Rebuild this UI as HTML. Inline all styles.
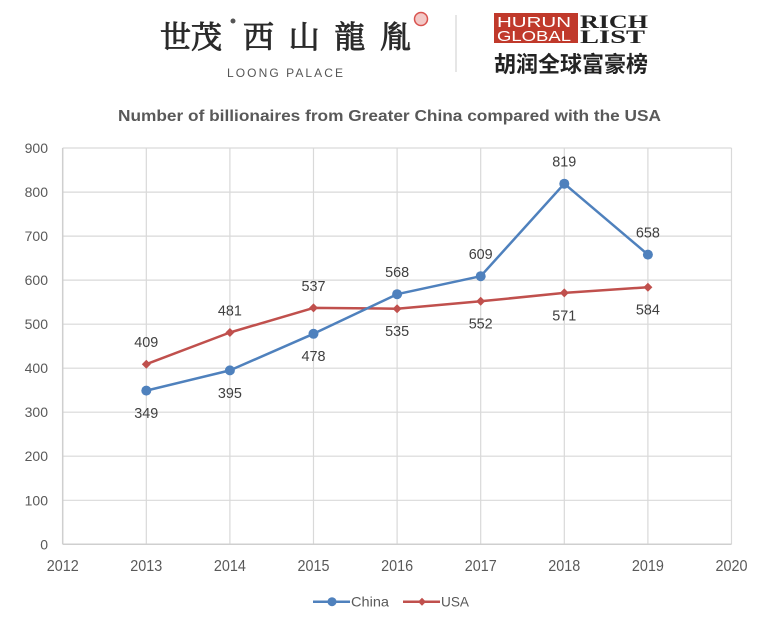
<!DOCTYPE html>
<html><head><meta charset="utf-8"><style>
html,body{margin:0;padding:0;background:#fff;}
svg{display:block;}
</style></head><body>
<svg width="768" height="617" viewBox="0 0 768 617" xmlns="http://www.w3.org/2000/svg">
<rect width="768" height="617" fill="#fff"/>
<!-- Header left logo -->
<g font-family="'Liberation Serif','Noto Serif CJK SC',serif" fill="#2b2b2b" stroke="#2b2b2b" stroke-width="0.9">
<text x="160" y="48" font-size="31">世茂</text>
<text x="243" y="48" font-size="31" textLength="168" lengthAdjust="spacing">西山龍胤</text>
</g>
<circle cx="233" cy="21" r="2.5" fill="#555"/>
<circle cx="421" cy="19" r="6.5" fill="#f3c9c7" stroke="#d9534f" stroke-width="1.5"/>
<text x="227" y="77" font-family="'Liberation Sans',sans-serif" font-size="12" fill="#555" textLength="116" lengthAdjust="spacing">LOONG  PALACE</text>
<line x1="456" y1="15" x2="456" y2="72" stroke="#ddd" stroke-width="1.5"/>
<!-- Hurun logo -->
<rect x="494" y="13" width="84" height="30" fill="#c0392b"/>
<text x="497" y="27" font-family="'Liberation Sans',sans-serif" font-size="15" fill="#fff" textLength="74" lengthAdjust="spacingAndGlyphs">HURUN</text>
<text x="497" y="41" font-family="'Liberation Sans',sans-serif" font-size="15" fill="#fff" textLength="74" lengthAdjust="spacingAndGlyphs">GLOBAL</text>
<text x="580" y="28" font-family="'Liberation Serif',serif" font-weight="bold" font-size="19" fill="#222" textLength="68" lengthAdjust="spacingAndGlyphs">RICH</text>
<text x="580" y="43" font-family="'Liberation Serif',serif" font-weight="bold" font-size="19" fill="#222" textLength="65" lengthAdjust="spacingAndGlyphs">LIST</text>
<text x="494" y="72" font-family="'Liberation Sans','Noto Sans CJK SC',sans-serif" font-weight="bold" font-size="22" fill="#222" textLength="154" lengthAdjust="spacingAndGlyphs">胡润全球富豪榜</text>
<!-- Title -->
<text x="118" y="121" font-family="'Liberation Sans',sans-serif" font-weight="bold" font-size="15.5" fill="#595959" textLength="543" lengthAdjust="spacingAndGlyphs">Number of billionaires from Greater China compared with the USA</text>
<!-- Grid -->
<g stroke="#d9d9d9" stroke-width="1.2" fill="none">
<line x1="62.7" y1="500.3" x2="731.5" y2="500.3"/>
<line x1="62.7" y1="456.2" x2="731.5" y2="456.2"/>
<line x1="62.7" y1="412.2" x2="731.5" y2="412.2"/>
<line x1="62.7" y1="368.2" x2="731.5" y2="368.2"/>
<line x1="62.7" y1="324.2" x2="731.5" y2="324.2"/>
<line x1="62.7" y1="280.1" x2="731.5" y2="280.1"/>
<line x1="62.7" y1="236.1" x2="731.5" y2="236.1"/>
<line x1="62.7" y1="192.1" x2="731.5" y2="192.1"/>
<line x1="62.7" y1="148.0" x2="731.5" y2="148.0"/>
<line x1="146.3" y1="148" x2="146.3" y2="544.3"/>
<line x1="229.9" y1="148" x2="229.9" y2="544.3"/>
<line x1="313.5" y1="148" x2="313.5" y2="544.3"/>
<line x1="397.1" y1="148" x2="397.1" y2="544.3"/>
<line x1="480.7" y1="148" x2="480.7" y2="544.3"/>
<line x1="564.3" y1="148" x2="564.3" y2="544.3"/>
<line x1="647.9" y1="148" x2="647.9" y2="544.3"/>
<line x1="731.5" y1="148" x2="731.5" y2="544.3"/>
</g>
<g stroke="#cfcfcf" stroke-width="1.5">
<line x1="62.7" y1="148" x2="62.7" y2="544.3"/>
<line x1="62.7" y1="544.3" x2="731.5" y2="544.3"/>
</g>
<!-- Y labels -->
<g font-family="'Liberation Sans',sans-serif" font-size="14" fill="#595959" text-anchor="end">
<text x="48" y="549.3">0</text>
<text x="48" y="505.3">100</text>
<text x="48" y="461.2">200</text>
<text x="48" y="417.2">300</text>
<text x="48" y="373.2">400</text>
<text x="48" y="329.2">500</text>
<text x="48" y="285.1">600</text>
<text x="48" y="241.1">700</text>
<text x="48" y="197.1">800</text>
<text x="48" y="153">900</text>
</g>
<!-- X labels -->
<g font-family="'Liberation Sans',sans-serif" font-size="16" fill="#595959" text-anchor="middle">
<text x="62.7" y="571" textLength="32" lengthAdjust="spacingAndGlyphs">2012</text>
<text x="146.3" y="571" textLength="32" lengthAdjust="spacingAndGlyphs">2013</text>
<text x="229.9" y="571" textLength="32" lengthAdjust="spacingAndGlyphs">2014</text>
<text x="313.5" y="571" textLength="32" lengthAdjust="spacingAndGlyphs">2015</text>
<text x="397.1" y="571" textLength="32" lengthAdjust="spacingAndGlyphs">2016</text>
<text x="480.7" y="571" textLength="32" lengthAdjust="spacingAndGlyphs">2017</text>
<text x="564.3" y="571" textLength="32" lengthAdjust="spacingAndGlyphs">2018</text>
<text x="647.9" y="571" textLength="32" lengthAdjust="spacingAndGlyphs">2019</text>
<text x="731.5" y="571" textLength="32" lengthAdjust="spacingAndGlyphs">2020</text>
</g>
<!-- USA series -->
<polyline fill="none" stroke="#c0504d" stroke-width="2.5" stroke-linejoin="round" points="146.3,364.2 229.9,332.5 313.5,307.9 397.1,308.7 480.7,301.3 564.3,292.9 647.9,287.2"/>
<g fill="#c0504d">
<path d="M146.3,359.7 l4.5,4.5 l-4.5,4.5 l-4.5,-4.5z"/>
<path d="M229.9,328 l4.5,4.5 l-4.5,4.5 l-4.5,-4.5z"/>
<path d="M313.5,303.4 l4.5,4.5 l-4.5,4.5 l-4.5,-4.5z"/>
<path d="M397.1,304.2 l4.5,4.5 l-4.5,4.5 l-4.5,-4.5z"/>
<path d="M480.7,296.8 l4.5,4.5 l-4.5,4.5 l-4.5,-4.5z"/>
<path d="M564.3,288.4 l4.5,4.5 l-4.5,4.5 l-4.5,-4.5z"/>
<path d="M647.9,282.7 l4.5,4.5 l-4.5,4.5 l-4.5,-4.5z"/>
</g>
<!-- China series -->
<polyline fill="none" stroke="#4f81bd" stroke-width="2.5" stroke-linejoin="round" points="146.3,390.6 229.9,370.4 313.5,333.8 397.1,294.2 480.7,276.2 564.3,183.7 647.9,254.6"/>
<g fill="#4f81bd">
<circle cx="146.3" cy="390.6" r="5"/>
<circle cx="229.9" cy="370.4" r="5"/>
<circle cx="313.5" cy="333.8" r="5"/>
<circle cx="397.1" cy="294.2" r="5"/>
<circle cx="480.7" cy="276.2" r="5"/>
<circle cx="564.3" cy="183.7" r="5"/>
<circle cx="647.9" cy="254.6" r="5"/>
</g>
<!-- Data labels -->
<g font-family="'Liberation Sans',sans-serif" font-size="15" fill="#404040" text-anchor="middle">
<text x="146.3" y="418" textLength="24" lengthAdjust="spacingAndGlyphs">349</text>
<text x="229.9" y="397.8" textLength="24" lengthAdjust="spacingAndGlyphs">395</text>
<text x="313.5" y="361.2" textLength="24" lengthAdjust="spacingAndGlyphs">478</text>
<text x="397.1" y="277.2" textLength="24" lengthAdjust="spacingAndGlyphs">568</text>
<text x="480.7" y="259.2" textLength="24" lengthAdjust="spacingAndGlyphs">609</text>
<text x="564.3" y="166.7" textLength="24" lengthAdjust="spacingAndGlyphs">819</text>
<text x="647.9" y="237.6" textLength="24" lengthAdjust="spacingAndGlyphs">658</text>
<text x="146.3" y="347.2" textLength="24" lengthAdjust="spacingAndGlyphs">409</text>
<text x="229.9" y="315.5" textLength="24" lengthAdjust="spacingAndGlyphs">481</text>
<text x="313.5" y="290.9" textLength="24" lengthAdjust="spacingAndGlyphs">537</text>
<text x="397.1" y="336.1" textLength="24" lengthAdjust="spacingAndGlyphs">535</text>
<text x="480.7" y="328.7" textLength="24" lengthAdjust="spacingAndGlyphs">552</text>
<text x="564.3" y="320.3" textLength="24" lengthAdjust="spacingAndGlyphs">571</text>
<text x="647.9" y="314.6" textLength="24" lengthAdjust="spacingAndGlyphs">584</text>
</g>
<!-- Legend -->
<line x1="313" y1="601.7" x2="350" y2="601.7" stroke="#4f81bd" stroke-width="2.5"/>
<circle cx="332" cy="601.7" r="4.5" fill="#4f81bd"/>
<text x="351" y="606.7" font-family="'Liberation Sans',sans-serif" font-size="14" fill="#595959" textLength="38" lengthAdjust="spacingAndGlyphs">China</text>
<line x1="403" y1="601.7" x2="440" y2="601.7" stroke="#c0504d" stroke-width="2.5"/>
<path d="M422,597.7 l4,4 l-4,4 l-4,-4z" fill="#c0504d"/>
<text x="441" y="606.7" font-family="'Liberation Sans',sans-serif" font-size="14" fill="#595959" textLength="28" lengthAdjust="spacingAndGlyphs">USA</text>
</svg>
</body></html>
